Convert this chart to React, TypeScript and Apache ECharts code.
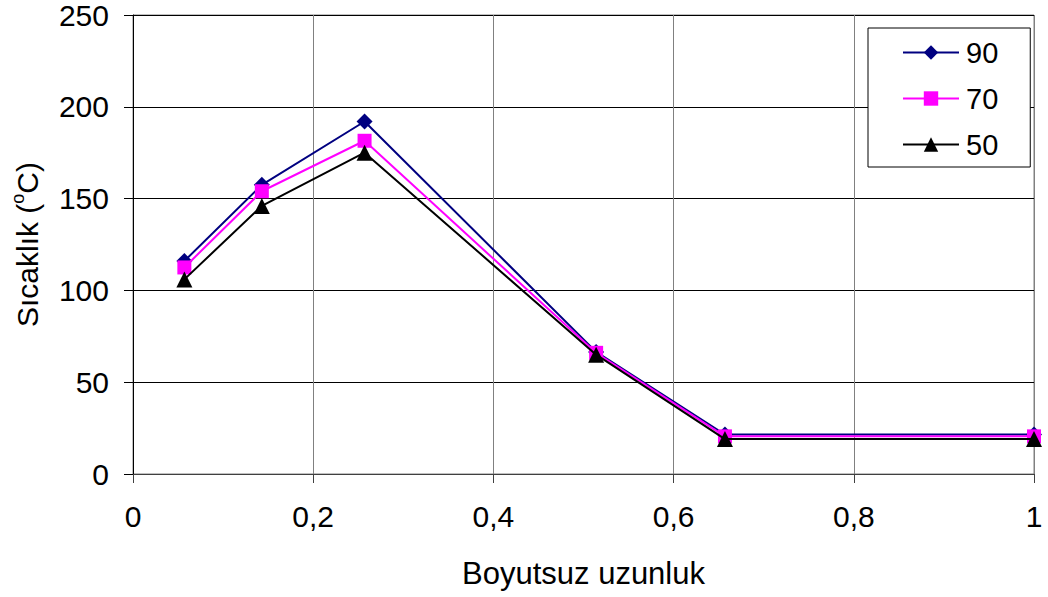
import React, { useEffect, useRef } from "react";
import * as echarts from "echarts";

const xValues = [0.057, 0.143, 0.257, 0.514, 0.657, 1.0];
const series90 = [116, 157.5, 192, 66.5, 21.5, 21.5];
const series70 = [112.5, 154, 181.5, 66, 20.5, 20.5];
const series50 = [106, 146, 175, 65, 19, 19];
const seriesNames = ["90", "70", "50"];
const xTicks = [0, 0.2, 0.4, 0.6, 0.8, 1];
const yTicks = [0, 50, 100, 150, 200, 250];

const FONT = "'Liberation Sans', Arial, sans-serif";

export default function App() {
  const ref = useRef<HTMLDivElement>(null);
  useEffect(() => {
    if (!ref.current) return;
    const chart = echarts.init(ref.current, null, { renderer: "svg" });
    const mk = (vals: number[]) => xValues.map((x, i) => [x, vals[i]]);
    chart.setOption({
      animation: false,
      backgroundColor: "#ffffff",
      textStyle: { fontFamily: FONT },
      grid: {
        left: 133,
        right: 14,
        top: 15,
        bottom: 123,
        show: true,
        borderColor: "#808080",
        borderWidth: 1,
      },
      legend: {
        orient: "vertical",
        left: 868,
        top: 28,
        padding: [10, 32, 8, 34],
        itemGap: 17,
        itemWidth: 56,
        itemHeight: 18,
        borderColor: "#000000",
        borderWidth: 1,
        backgroundColor: "#ffffff",
        textStyle: { fontSize: 29, color: "#000", fontFamily: FONT, padding: [0, 0, 0, 2] },
        data: seriesNames,
      },
      xAxis: {
        type: "value",
        min: 0,
        max: 1,
        interval: 0.2,
        name: "Boyutsuz uzunluk",
        nameLocation: "middle",
        nameGap: 84,
        nameTextStyle: { fontSize: 31, color: "#000", fontFamily: FONT },
        axisLine: { show: true, onZero: false, lineStyle: { color: "#404040", width: 1 } },
        axisTick: { show: true, length: 9, inside: false, lineStyle: { color: "#404040" } },
        axisLabel: {
          fontSize: 30,
          color: "#000",
          margin: 27,
          fontFamily: FONT,
          formatter: (v: number) => (xTicks.includes(Math.round(v * 10) / 10) ? String(Math.round(v * 10) / 10).replace(".", ",") : ""),
        },
        splitLine: { show: true, lineStyle: { color: "#808080", width: 1 } },
      },
      yAxis: {
        type: "value",
        min: 0,
        max: 250,
        interval: 50,
        name: "Sıcaklık ({sup|o}C)",
        nameLocation: "middle",
        nameRotate: 90,
        nameGap: 88,
        nameTextStyle: {
          fontSize: 30,
          color: "#000",
          fontFamily: FONT,
          lineHeight: 36,
          rich: {
            sup: { fontSize: 18, verticalAlign: "top", lineHeight: 36, color: "#000", fontFamily: FONT },
          },
        },
        axisLine: { show: true, lineStyle: { color: "#000", width: 1 } },
        axisTick: { show: true, length: 9, inside: false, lineStyle: { color: "#000" } },
        axisLabel: {
          fontSize: 30,
          color: "#000",
          margin: 24,
          fontFamily: FONT,
          formatter: (v: number) => (yTicks.includes(v) ? String(v) : ""),
        },
        splitLine: { show: true, lineStyle: { color: "#000000", width: 1 } },
      },
      series: [
        {
          name: seriesNames[0],
          type: "line",
          data: mk(series90),
          symbol: "diamond",
          symbolSize: 16,
          itemStyle: { color: "#000080" },
          lineStyle: { color: "#000080", width: 2 },
          z: 3,
        },
        {
          name: seriesNames[1],
          type: "line",
          data: mk(series70),
          symbol: "rect",
          symbolSize: 14,
          itemStyle: { color: "#FF00FF" },
          lineStyle: { color: "#FF00FF", width: 2 },
          z: 4,
        },
        {
          name: seriesNames[2],
          type: "line",
          data: mk(series50),
          symbol: "triangle",
          symbolSize: 16,
          itemStyle: { color: "#000000" },
          lineStyle: { color: "#000000", width: 2 },
          z: 5,
        },
      ],
    });
    return () => chart.dispose();
  }, []);
  return (
    <div
      ref={ref}
      style={{ position: "absolute", left: 0, top: 0, width: 1048, height: 597 }}
    />
  );
}
